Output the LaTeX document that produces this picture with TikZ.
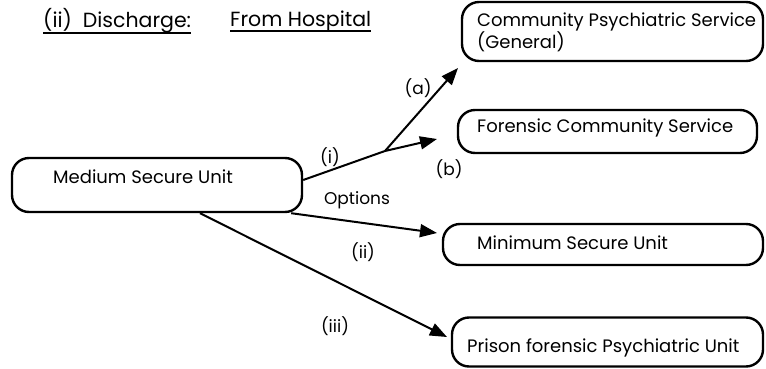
\documentclass[tikz,border=0pt]{standalone}
\usepackage{fontspec}
\setmainfont{Poppins}
\usetikzlibrary{arrows.meta}
\begin{document}
\begin{tikzpicture}[x=1pt,y=-1pt,
  box/.style={draw,line width=2.4pt,rounded corners=17pt,inner sep=0pt},
  txt/.style={inner sep=0pt,anchor=west,font=\fontsize{18}{21}\selectfont},
  ttl/.style={inner sep=0pt,anchor=west,font=\fontsize{20.5}{24}\selectfont},
  lbl/.style={inner sep=0pt,font=\fontsize{17}{19}\selectfont},
  arr/.style={line width=2pt,-{Triangle[length=17pt,width=13pt]}},
  ln/.style={line width=2pt}]
\useasboundingbox (0,0) rectangle (766,369);
% title
\node[ttl] (t1) at (43,21) {(ii)\ \ Discharge:};
\node[ttl] (t2) at (230,21) {From Hospital};
\draw[line width=1.6pt] ([yshift=-5pt]t1.base west) -- ([yshift=-5pt]t1.base east);
\draw[line width=1.6pt] ([yshift=-5pt]t2.base west) -- ([yshift=-5pt]t2.base east);
% boxes
\node[box,minimum width=290pt,minimum height=54pt] (msu) at (157,185) {};
\node[txt] (msut) at (53,177) {Medium Secure Unit};
\node[box,minimum width=301pt,minimum height=59pt] (cps) at (612.5,31.5) {};
\node[txt,align=left] (cpst) at (477,32.5) {Community Psychiatric Service\\(General)};
\node[box,minimum width=299pt,minimum height=43pt] (fcs) at (607.5,131.5) {};
\node[txt] (fcst) at (477,128) {Forensic Community Service};
\node[box,minimum width=320pt,minimum height=41pt] (min) at (603,244.5) {};
\node[txt] (mint) at (477,243) {Minimum Secure Unit};
\node[box,minimum width=311pt,minimum height=49pt] (pfp) at (607.5,342) {};
\node[txt] (pfpt) at (467,348) {Prison forensic Psychiatric Unit};
% connectors
\coordinate (j) at (385,151);
\coordinate (ta) at (458,68);
\coordinate (tb) at (437,139);
\coordinate (tmin) at (437,233);
\coordinate (tpf) at (447,337);
\draw[ln] (msu.east) ++(0,-5) coordinate (s1) -- (j);
\draw[arr] (j) -- (ta);
\draw[arr] (j) -- (tb);
\draw[arr] (msu.south east) ++(-12,0) coordinate (s2) -- (tmin);
\draw[arr] (msu.south) ++(43,0) coordinate (s3) -- (tpf);
% labels
\node[lbl] (li) at (330,157) {(i)};
\node[lbl] (la) at (418,88) {(a)};
\node[lbl] (lb) at (449,169) {(b)};
\node[lbl] (lo) at (357,200) {Options};
\node[lbl] (lii) at (363,252) {(ii)};
\node[lbl] (liii) at (335,326) {(iii)};
\end{tikzpicture}
\end{document}
